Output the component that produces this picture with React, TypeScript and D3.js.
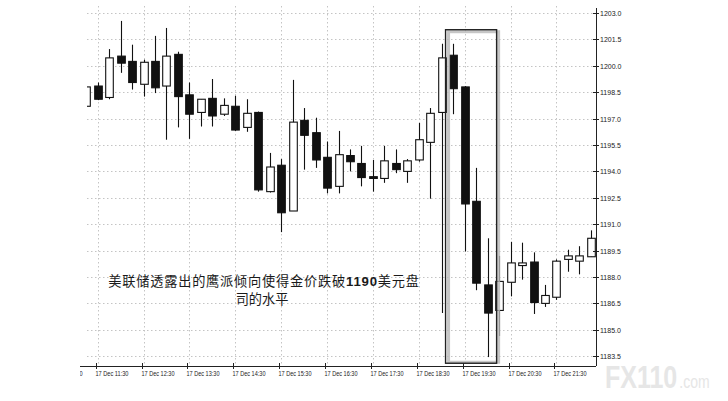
import { useEffect, useRef } from 'react';
import * as d3 from 'd3';

// 15-minute candles, 17 Dec 11:15 .. 22:15
const OPEN = [
  1197.7, 1198.85, 1198.2, 1200.55, 1200.25, 1198.95, 1200.25, 1198.85, 1200.65, 1198.35,
  1197.35, 1198.15, 1197.25, 1197.7, 1196.5, 1197.35, 1192.85, 1194.35, 1191.75, 1196.9,
  1196.2, 1194.8, 1193.15, 1194.9, 1194.45, 1193.7, 1193.6, 1194.45, 1194.0, 1194.65,
  1195.65, 1197.35, 1200.6, 1198.8, 1192.3, 1187.55, 1186.1, 1187.7, 1188.65, 1188.85,
  1186.5, 1186.85, 1189.0, 1188.9, 1189.15,
];
const HIGH = [
  1198.8, 1199.05, 1200.95, 1202.55, 1201.2, 1200.35, 1201.7, 1202.15, 1200.8, 1199.05,
  1198.1, 1199.25, 1198.15, 1198.3, 1198.1, 1197.4, 1195.05, 1194.7, 1199.2, 1197.6,
  1197.05, 1195.7, 1196.3, 1195.25, 1195.45, 1194.65, 1195.45, 1195.25, 1194.7, 1196.75,
  1197.6, 1201.25, 1201.25, 1198.85, 1194.2, 1190.2, 1189.2, 1190.0, 1189.95, 1189.4,
  1187.55, 1189.0, 1189.55, 1189.75, 1190.65,
];
const LOW = [
  1197.7, 1198.05, 1198.1, 1199.6, 1198.65, 1198.25, 1198.45, 1195.8, 1196.5, 1195.85,
  1196.55, 1196.55, 1197.15, 1196.3, 1196.25, 1192.85, 1192.8, 1190.55, 1191.75, 1194.1,
  1194.2, 1192.75, 1192.75, 1194.0, 1193.15, 1192.85, 1193.35, 1193.9, 1193.35, 1194.55,
  1192.45, 1185.95, 1197.25, 1189.45, 1187.25, 1183.45, 1184.65, 1186.9, 1187.85, 1185.9,
  1186.3, 1186.7, 1188.3, 1188.15, 1189.15,
];
const CLOSE = [
  1198.8, 1198.1, 1200.45, 1200.15, 1199.05, 1200.2, 1198.75, 1200.55, 1198.25, 1197.25,
  1198.1, 1197.15, 1197.75, 1196.35, 1197.3, 1192.95, 1194.25, 1191.65, 1196.8, 1196.05,
  1194.65, 1193.05, 1194.95, 1194.55, 1193.65, 1193.6, 1194.6, 1194.1, 1194.6, 1195.8,
  1197.3, 1200.45, 1198.7, 1192.15, 1187.65, 1185.95, 1187.75, 1188.8, 1188.8, 1186.55,
  1186.95, 1188.9, 1189.2, 1189.2, 1190.2,
];

const Y_TICKS = [
  1203.0, 1201.5, 1200.0, 1198.5, 1197.0, 1195.5, 1194.0,
  1192.5, 1191.0, 1189.5, 1188.0, 1186.5, 1185.0, 1183.5,
];
const X_TICK_INDEX = [-3, 1, 5, 9, 13, 17, 21, 25, 29, 33, 37, 41];
const X_TICK_LABELS = [
  '17 Dec 10:30', '17 Dec 11:30', '17 Dec 12:30', '17 Dec 13:30', '17 Dec 14:30', '17 Dec 15:30',
  '17 Dec 16:30', '17 Dec 17:30', '17 Dec 18:30', '17 Dec 19:30', '17 Dec 20:30', '17 Dec 21:30',
];

// highlighted sell-off, in candle-index / price units
const HIGHLIGHT_X = [31.33, 35.78];
const HIGHLIGHT_Y = [1183.1, 1202.05];

const NOTE_LINES = ['美联储透露出的鹰派倾向使得金价跌破', '1190', '美元盘', '司的水平'];

export default function App() {
  const svgRef = useRef<SVGSVGElement>(null);

  useEffect(() => {
    if (!svgRef.current) return;
    const svg = d3.select(svgRef.current);
    svg.selectAll('*').remove();

    const W = 728;
    const axisX = 596, axisY = 366, plotLeft = 87;

    const x = d3.scaleLinear().domain([0, OPEN.length - 1]).range([86.2, 590.9]);
    const y = d3.scaleLinear().domain([1183.5, 1203]).range([356.2, 13]);

    const defs = svg.append('defs');
    defs.append('clipPath').attr('id', 'plot-clip')
      .append('rect').attr('x', plotLeft).attr('y', 0).attr('width', axisX - plotLeft).attr('height', axisY);
    defs.append('clipPath').attr('id', 'label-clip')
      .append('rect').attr('x', 80).attr('y', 0).attr('width', W - 80).attr('height', 401);

    svg.append('rect').attr('width', W).attr('height', 401).attr('fill', '#fff');

    const plot = svg.append('g').attr('clip-path', 'url(#plot-clip)');

    // grid
    plot.selectAll('line.hgrid').data(Y_TICKS).join('line')
      .attr('x1', plotLeft).attr('x2', axisX)
      .attr('y1', (d) => Math.round(y(d)) + 0.5).attr('y2', (d) => Math.round(y(d)) + 0.5)
      .attr('stroke', '#c4c4c4').attr('stroke-dasharray', '1.5,2.5');
    plot.selectAll('line.vgrid').data(X_TICK_INDEX).join('line')
      .attr('x1', (d) => Math.round(x(d)) + 0.5).attr('x2', (d) => Math.round(x(d)) + 0.5)
      .attr('y1', 6).attr('y2', axisY)
      .attr('stroke', '#c4c4c4').attr('stroke-dasharray', '1.5,2.5');

    // candles
    const bodyW = 7.6;
    const candles = plot.selectAll('g.candle').data(OPEN.map((o, i) => i)).join('g');
    candles.append('line')
      .attr('x1', (i) => Math.round(x(i)) + 0.5).attr('x2', (i) => Math.round(x(i)) + 0.5)
      .attr('y1', (i) => y(HIGH[i])).attr('y2', (i) => y(LOW[i]))
      .attr('stroke', '#111').attr('stroke-width', 1.1);
    candles.append('rect')
      .attr('x', (i) => Math.round(x(i)) + 0.5 - bodyW / 2)
      .attr('y', (i) => y(Math.max(OPEN[i], CLOSE[i])))
      .attr('width', bodyW)
      .attr('height', (i) => Math.max(y(Math.min(OPEN[i], CLOSE[i])) - y(Math.max(OPEN[i], CLOSE[i])), 1.5))
      .attr('fill', (i) => (CLOSE[i] >= OPEN[i] ? '#fff' : '#111'))
      .attr('stroke', '#111').attr('stroke-width', 1.1);

    // highlight box
    const hx0 = x(HIGHLIGHT_X[0]), hx1 = x(HIGHLIGHT_X[1]);
    const hy0 = y(HIGHLIGHT_Y[1]), hy1 = y(HIGHLIGHT_Y[0]);
    svg.append('rect')
      .attr('x', hx0 + 3).attr('y', hy0 + 2).attr('width', hx1 - hx0 - 1).attr('height', hy1 - hy0 - 3)
      .attr('fill', 'none').attr('stroke', '#b8b8b8').attr('stroke-width', 3).attr('opacity', 0.8);
    svg.append('rect')
      .attr('x', hx0).attr('y', hy0).attr('width', hx1 - hx0).attr('height', hy1 - hy0)
      .attr('fill', 'none').attr('stroke', '#222').attr('stroke-width', 1.4);

    // axes
    svg.append('line').attr('x1', axisX + 0.5).attr('x2', axisX + 0.5).attr('y1', 8).attr('y2', axisY)
      .attr('stroke', '#222');
    svg.append('line').attr('x1', 80).attr('x2', axisX).attr('y1', axisY + 0.5).attr('y2', axisY + 0.5)
      .attr('stroke', '#222');

    const yAxis = svg.append('g');
    Y_TICKS.forEach((t) => {
      const ty = Math.round(y(t)) + 0.5;
      yAxis.append('line').attr('x1', axisX - 3).attr('x2', axisX + 3).attr('y1', ty).attr('y2', ty)
        .attr('stroke', '#222');
      yAxis.append('text').attr('x', axisX + 4).attr('y', ty + 2.5)
        .attr('font-family', '"Liberation Sans", Arial, sans-serif').attr('font-size', 7)
        .attr('fill', '#222').text(t.toFixed(1));
    });

    const xAxis = svg.append('g').attr('clip-path', 'url(#label-clip)');
    X_TICK_INDEX.forEach((idx, k) => {
      const tx = Math.round(x(idx)) + 0.5;
      xAxis.append('line').attr('x1', tx - 2).attr('x2', tx - 2).attr('y1', axisY - 3).attr('y2', axisY + 3)
        .attr('stroke', '#222');
      xAxis.append('text').attr('x', tx - 3).attr('y', axisY + 9.5)
        .attr('font-family', '"Liberation Sans", Arial, sans-serif').attr('font-size', 7)
        .attr('textLength', 33).attr('lengthAdjust', 'spacingAndGlyphs')
        .attr('fill', '#222').text(X_TICK_LABELS[k]);
    });

    // annotation
    const note = svg.append('text').attr('x', 264).attr('y', 286).attr('text-anchor', 'middle')
      .attr('font-family', '"Noto Sans CJK SC", sans-serif').attr('font-size', 13.2)
      .attr('letter-spacing', 0.8).attr('fill', '#1a1a1a');
    note.append('tspan').text(NOTE_LINES[0]);
    note.append('tspan').attr('font-family', '"Liberation Sans", Arial, sans-serif').attr('font-weight', 'bold')
      .text(NOTE_LINES[1]);
    note.append('tspan').text(NOTE_LINES[2]);
    svg.append('text').attr('x', 262).attr('y', 303.5).attr('text-anchor', 'middle')
      .attr('font-family', '"Noto Sans CJK SC", sans-serif').attr('font-size', 13.2).attr('fill', '#1a1a1a')
      .text(NOTE_LINES[3]);

    // watermark
    const wm = svg.append('text').attr('transform', 'translate(605,388) scale(1,1.28)')
      .attr('font-family', '"Liberation Sans", Arial, sans-serif').attr('fill', '#e6e6e6');
    wm.append('tspan').attr('font-weight', 'bold').attr('font-size', 25).text('FX110');
    wm.append('tspan').attr('dx', 2).attr('font-size', 14).text('.com');
  }, []);

  return (
    <svg
      ref={svgRef}
      width={728}
      height={401}
      viewBox="0 0 728 401"
      style={{ position: 'fixed', left: 0, top: 0, display: 'block' }}
    />
  );
}
